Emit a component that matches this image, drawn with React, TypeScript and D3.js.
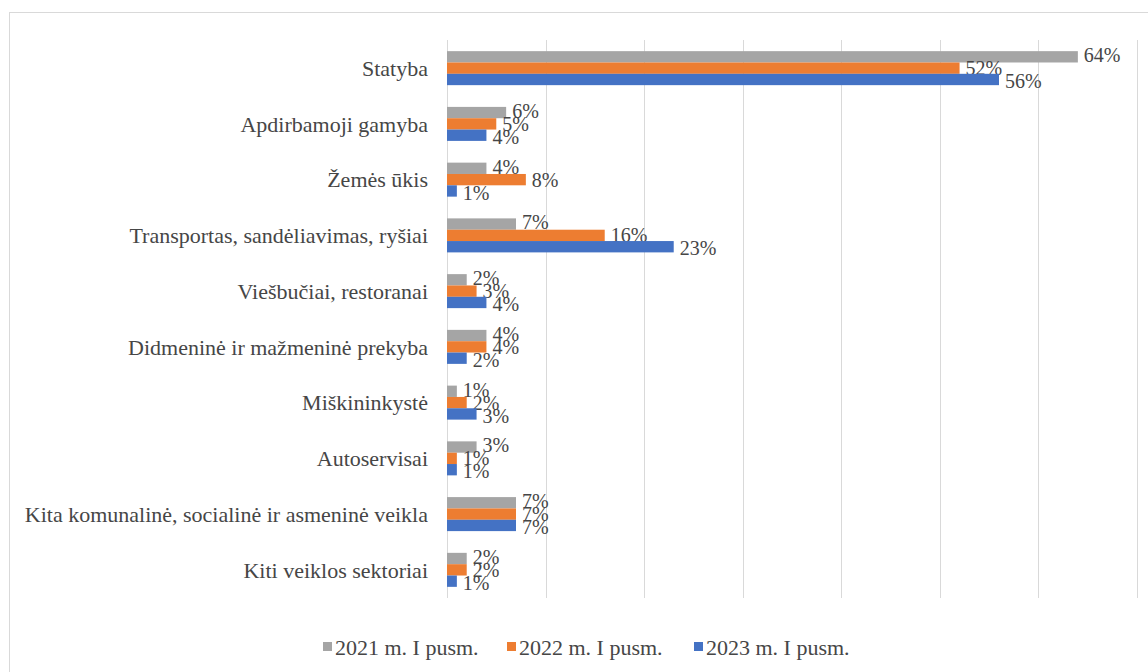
import React from 'react'
import * as d3 from 'd3'

const categories = [
  'Statyba',
  'Apdirbamoji gamyba',
  'Žemės ūkis',
  'Transportas, sandėliavimas, ryšiai',
  'Viešbučiai, restoranai',
  'Didmeninė ir mažmeninė prekyba',
  'Miškininkystė',
  'Autoservisai',
  'Kita komunalinė, socialinė ir asmeninė veikla',
  'Kiti veiklos sektoriai',
]

const seriesNames = ['2021 m. I pusm.', '2022 m. I pusm.', '2023 m. I pusm.']
const values2021 = [64, 6, 4, 7, 2, 4, 1, 3, 7, 2]
const values2022 = [52, 5, 8, 16, 3, 4, 2, 1, 7, 2]
const values2023 = [56, 4, 1, 23, 4, 2, 3, 1, 7, 1]
const xTicks = [0, 10, 20, 30, 40, 50, 60, 70]

const colors = ['#a5a5a5', '#ed7d31', '#4472c4']
const font = '"Liberation Serif", "Times New Roman", serif'
const textColor = '#464646'

const App = () => {
  const width = 1148
  const height = 672
  const allValues = [values2021, values2022, values2023]

  const x = d3.scaleLinear().domain([0, 70]).range([447, 1137])
  const y = d3.scaleBand<string>()
    .domain(categories)
    .range([40, 598])
    .paddingInner(0.39)
    .paddingOuter(0.2)
  const sub = d3.scaleBand<string>()
    .domain(seriesNames)
    .range([0, y.bandwidth()])

  // labels sit a little further apart than the bars, like the original
  const labelGap = 13

  const legendX = [323, 507, 694]

  return (
    <svg width={width} height={height} style={{ display: 'block', background: '#fff', fontFamily: font }}>
      <style>{'body{margin:0}'}</style>
      <rect x={9.5} y={12.5} width={width} height={height} fill="#fff" stroke="#d9d9d9" />

      {xTicks.map(t => (
        <line key={t} x1={Math.round(x(t)) + 0.5} x2={Math.round(x(t)) + 0.5} y1={40} y2={598}
          stroke="#d9d9d9" strokeWidth={1} />
      ))}

      {categories.map((c, i) => {
        const mid = (y(c) ?? 0) + y.bandwidth() / 2
        return (
          <g key={c}>
            <text x={428} y={mid} dy="0.35em" textAnchor="end"
              fontSize={22} fill={textColor}>{c}</text>
            {seriesNames.map((s, k) => {
              const v = allValues[k][i]
              const by = (y(c) ?? 0) + (sub(s) ?? 0)
              return (
                <g key={s}>
                  <rect x={x(0)} y={by} width={x(v) - x(0)} height={sub.bandwidth()} fill={colors[k]} />
                  <text x={x(v) + 6} y={mid + (k - 1) * labelGap} dy="0.35em"
                    fontSize={20} fill={textColor}>{v}%</text>
                </g>
              )
            })}
          </g>
        )
      })}

      {seriesNames.map((s, k) => (
        <g key={s}>
          <rect x={legendX[k]} y={642} width={9} height={9} fill={colors[k]} />
          <text x={legendX[k] + 12} y={647} dy="0.35em" fontSize={22} fill={textColor}>{s}</text>
        </g>
      ))}
    </svg>
  )
}

export default App
